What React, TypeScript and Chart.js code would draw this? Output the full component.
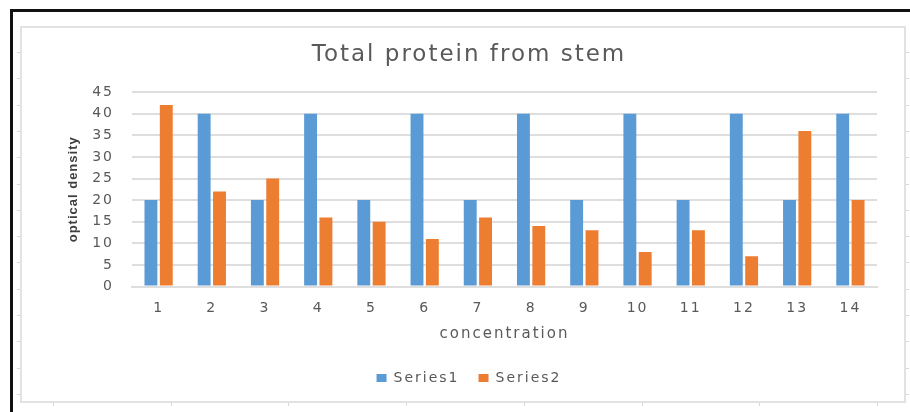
import React, { useEffect, useRef } from "react";
import { Chart, registerables } from "chart.js";

Chart.register(...registerables);

const categories = ["1", "2", "3", "4", "5", "6", "7", "8", "9", "10", "11", "12", "13", "14"];
const series1 = [20, 40, 20, 40, 20, 40, 20, 40, 20, 40, 20, 40, 20, 40];
const series2 = [42, 22, 25, 16, 15, 11, 16, 14, 13, 8, 13, 7, 36, 20];
const seriesNames = ["Series1", "Series2"];
const yMin = 0;
const yMax = 45;
const yStep = 5;
const chartTitle = "Total protein from stem";
const xTitle = "concentration";
const yTitle = "optical density";

const TEXT = "#595959";
const GRID = "#dedede";
const SPACING = "2px";

const spacingPlugin = {
  id: "spacing",
  beforeUpdate(chart: any) {
    chart.ctx.letterSpacing = SPACING;
  },
  beforeLayout(chart: any) {
    chart.ctx.letterSpacing = SPACING;
  },
  beforeDraw(chart: any) {
    chart.ctx.letterSpacing = SPACING;
  },
  afterDraw(chart: any) {
    const ctx = chart.ctx;
    const area = chart.chartArea;
    ctx.save();
    ctx.letterSpacing = "1px";
    ctx.fillStyle = "#3f3f3f";
    ctx.font = "bold 13px 'Liberation Sans'";
    ctx.textAlign = "center";
    ctx.textBaseline = "middle";
    ctx.translate(51, (area.top + area.bottom) / 2);
    ctx.rotate(-Math.PI / 2);
    ctx.fillText(yTitle, 0, 0);
    ctx.restore();
  },
};

export default function App() {
  const ref = useRef<HTMLCanvasElement | null>(null);

  useEffect(() => {
    if (!ref.current) return;
    const chart = new Chart(ref.current, {
      type: "bar",
      data: {
        labels: categories,
        datasets: [
          {
            label: seriesNames[0],
            data: series1,
            backgroundColor: "#5b9bd5",
            borderWidth: 0,
            barPercentage: 0.84,
            categoryPercentage: 0.577,
          },
          {
            label: seriesNames[1],
            data: series2,
            backgroundColor: "#ed7d31",
            borderWidth: 0,
            barPercentage: 0.84,
            categoryPercentage: 0.577,
          },
        ],
      },
      plugins: [spacingPlugin],
      options: {
        animation: false,
        responsive: false,
        events: [],
        layout: { padding: { left: 39, right: 27, top: 0, bottom: 6 } },
        plugins: {
          title: {
            display: true,
            text: chartTitle,
            color: TEXT,
            font: { family: "DejaVu Sans", size: 23, weight: "normal" },
            padding: { top: 13.5, bottom: 23 },
          },
          legend: {
            position: "bottom",
            labels: {
              boxWidth: 10,
              boxHeight: 8,
              padding: 19,
              color: TEXT,
              font: { family: "DejaVu Sans", size: 14 },
            },
          },
          tooltip: { enabled: false },
        },
        scales: {
          x: {
            grid: { display: false, drawTicks: false },
            border: { display: true, color: GRID, width: 2 },
            ticks: {
              color: TEXT,
              padding: 13,
              font: { family: "DejaVu Sans", size: 14 },
              maxRotation: 0,
            },
            title: {
              display: true,
              text: xTitle,
              color: TEXT,
              font: { family: "DejaVu Sans", size: 15 },
              padding: { top: 0, bottom: 8.5 },
            },
            afterFit: (s: any) => {
              s.height = 65.5;
            },
          },
          y: {
            min: yMin,
            max: yMax,
            grid: { color: GRID, lineWidth: 2, drawTicks: false },
            border: { display: false },
            ticks: {
              stepSize: yStep,
              color: TEXT,
              padding: 18,
              font: { family: "DejaVu Sans", size: 14 },
            },
            title: { display: false },
            afterFit: (s: any) => {
              s.width = 71;
            },
          },
        },
      },
    });
    return () => chart.destroy();
  }, []);

  const leftTicks: number[] = [];
  for (let y = 52; y < 412; y += 26.3) leftTicks.push(y);
  const bottomTicks: number[] = [];
  for (let x = 53; x < 905; x += 117.7) bottomTicks.push(x);

  return (
    <div
      style={{
        position: "absolute",
        left: 0,
        top: 0,
        width: 910,
        height: 412,
        background: "#fff",
        overflow: "hidden",
      }}
    >
      <div
        style={{
          position: "absolute",
          left: 10,
          top: 9,
          width: 940,
          height: 440,
          border: "3px solid #111",
          boxSizing: "border-box",
        }}
      />
      <div
        style={{
          position: "absolute",
          left: 20,
          top: 26,
          width: 886,
          height: 377,
          border: "2px solid #e2e2e2",
          boxSizing: "border-box",
        }}
      />
      {leftTicks.map((y, i) => (
        <React.Fragment key={"t" + i}>
          <div style={{ position: "absolute", left: 17, top: y, width: 3, height: 1, background: "#d8d8d8" }} />
          <div style={{ position: "absolute", left: 906, top: y, width: 3, height: 1, background: "#d8d8d8" }} />
        </React.Fragment>
      ))}
      {bottomTicks.map((x, i) => (
        <div key={"b" + i} style={{ position: "absolute", left: x, top: 403, width: 1, height: 3, background: "#d8d8d8" }} />
      ))}
      <canvas
        ref={ref}
        width={882}
        height={373}
        style={{ position: "absolute", left: 22, top: 28, width: 882, height: 373 }}
      />
    </div>
  );
}
